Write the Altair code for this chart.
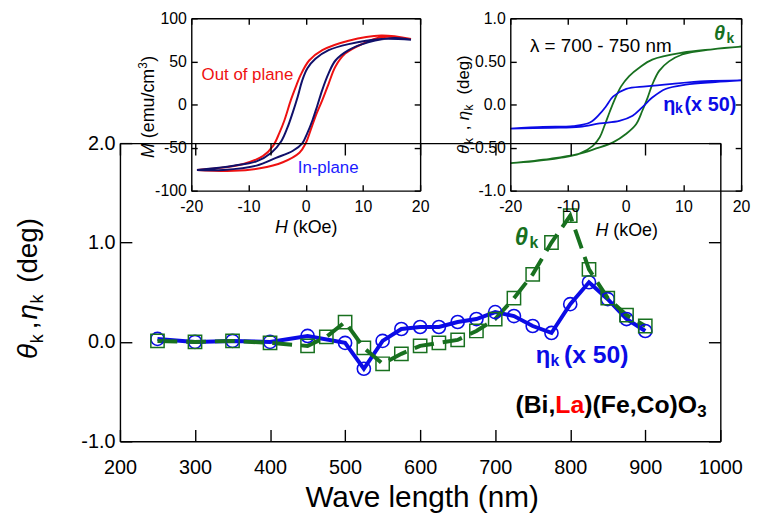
import altair as alt
import pandas as pd

# ------------------------------------------------------------------
# Main panel: Kerr spectra of (Bi,La)(Fe,Co)O3
# ------------------------------------------------------------------
wl_eta = [250, 300, 350, 400, 450, 500, 525, 550, 575, 600, 625, 650, 675,
          700, 725, 750, 775, 800, 825, 850, 875, 900]
eta_k = [0.03, 0.00, 0.01, 0.00, 0.06, -0.01, -0.27, 0.01, 0.13, 0.15, 0.15,
         0.20, 0.23, 0.30, 0.26, 0.16, 0.09, 0.38, 0.60, 0.43, 0.23, 0.11]
wl_theta = [250, 300, 350, 400, 450, 475, 500, 525, 550, 575, 600, 625, 650,
            675, 700, 725, 750, 775, 800, 825, 850, 875, 900]
theta_k = [0.01, 0.00, 0.01, -0.01, -0.04, 0.05, 0.20, -0.06, -0.22, -0.12,
           -0.04, -0.01, 0.02, 0.11, 0.23, 0.44, 0.68, 1.00, 1.27, 0.73,
           0.44, 0.27, 0.16]
main_x_ticks = [200, 300, 400, 500, 600, 700, 800, 900, 1000]
main_y_ticks = [-1, 0, 1, 2]

# ------------------------------------------------------------------
# Left inset: M-H loops
# ------------------------------------------------------------------
out_desc_H = [18.4, 13.2, 7.5, 2.9, 0.6, -0.9, -1.7, -2.6, -3.7, -4.6, -5.7, -7.5, -10.9, -15.5, -19.0]
out_desc_M = [76, 80, 74, 63, 51, 34, 21, 5, -18, -33, -48, -60, -69, -74, -76]
out_asc_H = [-19.0, -12.6, -8.0, -4.0, -1.1, 0.0, 0.9, 1.7, 2.9, 4.0, 5.2, 6.9, 9.8, 13.2, 18.4]
out_asc_M = [-76, -77, -74, -67, -56, -45, -29, -14, 5, 24, 44, 59, 70, 78, 76]
in_desc_H = [18.4, 13.2, 7.5, 4.0, 1.7, 0.3, -0.6, -1.4, -2.3, -3.2, -4.3, -6.0, -8.6, -12.6, -19.0]
in_desc_M = [75, 76, 70, 63, 53, 42, 28, 9, -10, -27, -43, -56, -66, -71, -76]
in_asc_H = [-19.0, -14.4, -8.6, -5.2, -2.3, -0.6, 0.3, 1.2, 2.0, 2.9, 4.0, 5.2, 7.5, 10.9, 15.5, 18.4]
in_asc_M = [-76, -76, -71, -62, -54, -45, -33, -18, -2, 17, 36, 51, 63, 72, 77, 75]
mh_x_ticks = [-20, -10, 0, 10, 20]
mh_y_ticks = [-100, -50, 0, 50, 100]

# ------------------------------------------------------------------
# Right inset: Kerr loops (700-750 nm)
# ------------------------------------------------------------------
th_desc_H = [20, 15, 9.8, 4.6, 2.4, 0.6, -0.8, -1.9, -2.8, -3.7, -4.5, -5.7, -8.0, -11.4, -16, -20]
th_desc_V = [0.67, 0.64, 0.60, 0.52, 0.43, 0.33, 0.21, 0.06, -0.09, -0.25, -0.38, -0.48, -0.57, -0.62, -0.66, -0.68]
th_asc_H = [-20, -13.1, -8.5, -5.1, -2.2, 0.1, 1.8, 2.9, 3.8, 4.6, 5.8, 7.5, 9.8, 15, 20]
th_asc_V = [-0.68, -0.63, -0.58, -0.51, -0.44, -0.34, -0.23, -0.07, 0.08, 0.23, 0.39, 0.50, 0.58, 0.64, 0.67]
et_desc_H = [20, 13.8, 8.1, 3.5, 0.1, -2.2, -3.4, -4.5, -6.2, -9.1, -14.3, -20]
et_desc_V = [0.28, 0.27, 0.24, 0.21, 0.18, 0.09, -0.02, -0.11, -0.21, -0.25, -0.26, -0.28]
et_asc_H = [-20, -13.1, -8, -4.5, -1.1, 1.2, 2.9, 4.6, 6.9, 10.4, 15.5, 20]
et_asc_V = [-0.28, -0.27, -0.26, -0.22, -0.19, -0.13, -0.03, 0.08, 0.18, 0.23, 0.26, 0.28]
kr_x_ticks = [-20, -10, 0, 10, 20]
kr_y_ticks = [-1, -0.5, 0, 0.5, 1]

# ------------------------------------------------------------------
W, H = 754, 506
FONT = "Liberation Sans"
BLUE = "#0b0be6"
GREEN = "#18701f"
RED = "#ee1111"
NAVY = "#10106a"

MINUS = "\u2212"
PANELS = {
    "main": dict(xdom=[200, 1000], ydom=[-1, 2], xr=[113, 719], yr=[435, 134],
                 tick=12, fs=20, xpad=17, ypad=5,
                 xt=main_x_ticks, yt=main_y_ticks,
                 xexpr="format(datum.value, 'd')",
                 yexpr="replace(format(datum.value, '.1f'), '" + MINUS + "', '-')"),
    "mh": dict(xdom=[-20, 20], ydom=[-100, 100], xr=[185, 416], yr=[182, 8],
               tick=6, fs=16, xpad=8, ypad=5,
               xt=mh_x_ticks, yt=mh_y_ticks,
               xexpr="replace(format(datum.value, 'd'), '" + MINUS + "', '-')",
               yexpr="replace(format(datum.value, 'd'), '" + MINUS + "', '-')"),
    "kr": dict(xdom=[-20, 20], ydom=[-1, 1], xr=[507, 740], yr=[182, 8],
               tick=6, fs=16, xpad=8, ypad=5,
               xt=kr_x_ticks, yt=kr_y_ticks,
               xexpr="replace(format(datum.value, 'd'), '" + MINUS + "', '-')",
               yexpr="datum.value == 0.5 ? '0.50' : datum.value == -0.5 ? '-0.50' : "
                     "replace(format(datum.value, '.1f'), '" + MINUS + "', '-')"),
}


def enc(panel, xf, yf, xaxis=None, yaxis=None):
    p = PANELS[panel]
    return dict(
        x=alt.X(xf, type="quantitative",
                scale=alt.Scale(domain=p["xdom"], range=p["xr"], nice=False, zero=False),
                axis=xaxis),
        y=alt.Y(yf, type="quantitative",
                scale=alt.Scale(domain=p["ydom"], range=p["yr"], nice=False, zero=False),
                axis=yaxis),
    )


def frame(panel, df, xf, yf):
    p = PANELS[panel]
    left, right = p["xr"]
    bottom, top = p["yr"]
    common = dict(grid=False, title=None, labelFlush=False, labelOverlap=False,
                  domainColor="black", tickColor="black", labelColor="black",
                  labelFont=FONT, domainWidth=1.4, tickWidth=1.4, zindex=1)
    lab_x = alt.Axis(orient="bottom", offset=bottom - H, values=p["xt"], domain=False,
                     ticks=False, tickSize=0, labelPadding=p["xpad"],
                     labelFontSize=p["fs"], labelExpr=p["xexpr"], **common)
    lab_y = alt.Axis(orient="left", offset=-left, values=p["yt"], domain=False,
                     ticks=False, tickSize=0, labelPadding=p["ypad"],
                     labelFontSize=p["fs"], labelExpr=p["yexpr"], **common)
    side_b = alt.Axis(orient="top", offset=-bottom, values=p["xt"], labels=False,
                      tickSize=p["tick"], **common)
    side_l = alt.Axis(orient="right", offset=left - W, values=p["yt"], labels=False,
                      tickSize=p["tick"], **common)
    side_t = alt.Axis(orient="bottom", offset=top - H, values=p["xt"], labels=False,
                      tickSize=p["tick"], **common)
    side_r = alt.Axis(orient="left", offset=-right, values=p["yt"], labels=False,
                      tickSize=p["tick"], **common)
    out = []
    for ax, ay in [(lab_x, lab_y), (side_b, side_l), (side_t, side_r)]:
        out.append(alt.Chart(df).mark_point(opacity=0).encode(**enc(panel, xf, yf, ax, ay)))
    return out


def label(panel, xv, yv, text, size, color="black", weight="normal", style="normal",
          dx=0, dy=0):
    df = pd.DataFrame({"x": [xv], "y": [yv]})
    return alt.Chart(df).mark_text(
        text=text, fontSize=size, color=color, fontWeight=weight, fontStyle=style,
        dx=dx, dy=dy, align="left", baseline="alphabetic", font=FONT
    ).encode(**enc(panel, "x", "y"))


def ptext(x, y, text, size, style="normal", angle=0, dx=0, dy=0, align="left"):
    df = pd.DataFrame({"t": [text]})
    return alt.Chart(df).mark_text(
        fontSize=size, fontStyle=style, angle=angle, dx=dx, dy=dy, align=align,
        baseline="alphabetic", font=FONT, color="black"
    ).encode(x=alt.value(x), y=alt.value(y), text="t:N")


def loop(h1, v1, h2, v2):
    hs = list(h1) + list(h2)
    vs = list(v1) + list(v2)
    return pd.DataFrame({"h": hs, "v": vs, "o": list(range(len(hs)))})


layers = []

# ---------------- left inset ----------------
df_out = loop(out_desc_H, out_desc_M, out_asc_H, out_asc_M)
df_in = loop(in_desc_H, in_desc_M, in_asc_H, in_asc_M)
layers.append(alt.Chart(df_out).mark_line(color=RED, strokeWidth=2, interpolate="catmull-rom")
              .encode(order="o:Q", **enc("mh", "h", "v")))
layers.append(alt.Chart(df_in).mark_line(color=NAVY, strokeWidth=2, interpolate="catmull-rom")
              .encode(order="o:Q", **enc("mh", "h", "v")))
layers.append(label("mh", -18.2, 28.7, "Out of plane", 17, color=RED))
layers.append(label("mh", -1.4, -80, "In-plane", 17, color="#1a1aff"))
layers += frame("mh", df_out, "h", "v")

# ---------------- right inset ----------------
df_th = loop(th_desc_H, th_desc_V, th_asc_H, th_asc_V)
df_et = loop(et_desc_H, et_desc_V, et_asc_H, et_asc_V)
layers.append(alt.Chart(df_th).mark_line(color=GREEN, strokeWidth=1.8, interpolate="catmull-rom")
              .encode(order="o:Q", **enc("kr", "h", "v")))
layers.append(alt.Chart(df_et).mark_line(color=BLUE, strokeWidth=1.8, interpolate="catmull-rom")
              .encode(order="o:Q", **enc("kr", "h", "v")))
layers.append(label("kr", -16.6, 0.61, "\u03bb = 700 - 750 nm", 19))
layers.append(label("kr", 15.3, 0.75, "\u03b8", 20, color=GREEN, weight="bold", style="italic"))
layers.append(label("kr", 15.3, 0.75, "k", 14, color=GREEN, weight="bold", dx=12.5, dy=3))
layers.append(label("kr", 6.5, -0.07, "\u03b7", 20, color=BLUE, weight="bold"))
layers.append(label("kr", 6.5, -0.07, "k", 14, color=BLUE, weight="bold", dx=12, dy=3))
layers.append(label("kr", 6.5, -0.07, "(x 50)", 20, color=BLUE, weight="bold", dx=21.5))
layers += frame("kr", df_th, "h", "v")

# ---------------- main panel ----------------
df_eta = pd.DataFrame({"wl": wl_eta, "v": eta_k})
df_theta = pd.DataFrame({"wl": wl_theta, "v": theta_k})
layers.append(alt.Chart(df_eta).mark_line(color=BLUE, strokeWidth=4)
              .encode(**enc("main", "wl", "v")))
layers.append(alt.Chart(df_theta).mark_line(color=GREEN, strokeWidth=4, strokeDash=[20, 9])
              .encode(**enc("main", "wl", "v")))
layers.append(alt.Chart(df_eta).mark_point(shape="circle", filled=False, size=175,
                                            strokeWidth=1.6, color=BLUE, opacity=1)
              .encode(**enc("main", "wl", "v")))
layers.append(alt.Chart(df_theta).mark_point(shape="square", filled=False, size=180,
                                              strokeWidth=1.5, color=GREEN, opacity=1)
              .encode(**enc("main", "wl", "v")))
layers.append(label("main", 726, 0.97, "\u03b8", 24, color=GREEN, weight="bold", style="italic"))
layers.append(label("main", 726, 0.97, "k", 16, color=GREEN, weight="bold", dx=15, dy=3))
layers.append(label("main", 754, -0.21, "\u03b7", 24, color=BLUE, weight="bold"))
layers.append(label("main", 754, -0.21, "k", 16, color=BLUE, weight="bold", dx=15, dy=3))
layers.append(label("main", 754, -0.21, "(x 50)", 25, color=BLUE, weight="bold", dx=28.5))
layers.append(label("main", 727, -0.72, "(Bi,", 25, weight="bold"))
layers.append(label("main", 727, -0.72, "La", 25, color="#ff0000", weight="bold", dx=40.3))
layers.append(label("main", 727, -0.72, ")(Fe,Co)O", 25, weight="bold", dx=69.5))
layers.append(label("main", 727, -0.72, "3", 17, weight="bold", dx=183.5, dy=4))
layers += frame("main", df_eta, "wl", "v")

# ---------------- axis titles ----------------
# main x
layers.append(ptext(418, 501, "Wave length (nm)", 30, align="center"))
# main y (rotated)
for t, s, st, dx, dy in [("\u03b8", 28, "italic", 0, 0), ("k", 18, "normal", 16, 6),
                         (",", 28, "normal", 30, 0), ("\u03b7", 28, "italic", 40, 0),
                         ("k", 18, "normal", 56, 6), ("(deg)", 28, "normal", 77, 0)]:
    layers.append(ptext(29, 352, t, s, style=st, angle=270, dx=dx, dy=dy))
# left inset titles
for t, s, st, dx, dy in [("M", 18, "italic", 0, 0), ("(emu/cm", 18, "normal", 20, 0),
                         ("3", 12, "normal", 90, -7), (")", 18, "normal", 97, 0)]:
    layers.append(ptext(147, 149, t, s, style=st, angle=270, dx=dx, dy=dy))
layers.append(ptext(269.5, 225, "H", 18, style="italic"))
layers.append(ptext(287.5, 225, "(kOe)", 18))
# right inset titles
for t, s, st, dx, dy in [("\u03b8", 17, "italic", 0, 0), ("k", 12, "normal", 10, 4),
                         (",", 17, "normal", 24, 0), ("\u03b7", 17, "italic", 34, 0),
                         ("k", 12, "normal", 44, 4), ("(deg)", 17, "normal", 60, 0)]:
    layers.append(ptext(465, 145, t, s, style=st, angle=270, dx=dx, dy=dy))
layers.append(ptext(593, 228, "H", 18, style="italic"))
layers.append(ptext(611, 228, "(kOe)", 18))

chart = (
    alt.layer(*layers)
    .resolve_scale(x="independent", y="independent")
    .properties(width=W, height=H, autosize=alt.AutoSizeParams(type="none"), padding=0)
    .configure_view(stroke=None)
)

chart.save("out.html", embed_options={"renderer": "svg", "actions": False})
